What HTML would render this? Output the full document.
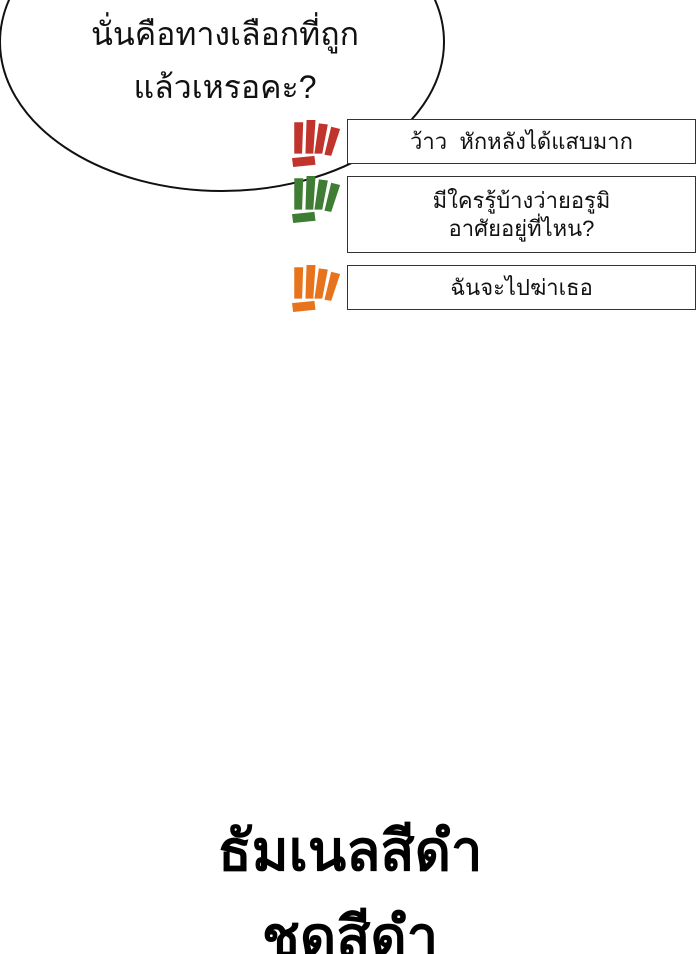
<!DOCTYPE html>
<html><head><meta charset="utf-8"><style>
html,body{margin:0;padding:0;background:#fff;width:700px;height:954px;overflow:hidden;position:relative;font-family:"Liberation Sans","DejaVu Sans",sans-serif}
.t{position:absolute;text-align:center;color:#111}
.box{position:absolute;border:1px solid #333;background:#fff;display:flex;align-items:center;justify-content:center;text-align:center;font-size:22px;line-height:28px;color:#111}
</style></head><body>
<svg width="700" height="954" style="position:absolute;left:0;top:0">
<ellipse cx="222" cy="42" rx="222" ry="149" fill="#fff" stroke="#111" stroke-width="2"/>
<defs>
<g id="ic">
<polygon points="2,2 10,2 9,30 2,30"/>
<polygon points="13,0 21,0 19,30 12,30"/>
<polygon points="24,3 32,4 27,30 20,30"/>
<polygon points="35,6 43,8 35,32 29,31"/>
<polygon points="0,34 20,32 21,40 1,42"/>
</g></defs>
<use href="#ic" transform="translate(292,120) scale(1.12)" fill="#c1342d"/>
<use href="#ic" transform="translate(292,176) scale(1.12)" fill="#3e7d33"/>
<use href="#ic" transform="translate(292,265) scale(1.12)" fill="#e8731d"/>
</svg>
<div class="t" style="left:30px;top:8px;width:390px;font-size:32px;line-height:53px">นั่นคือทางเลือกที่ถูก<br>แล้วเหรอคะ?</div>
<div class="box" style="left:347px;top:119px;width:347px;height:43px">ว้าว&nbsp; หักหลังได้แสบมาก</div>
<div class="box" style="left:347px;top:176px;width:347px;height:75px">มีใครรู้บ้างว่ายอรูมิ<br>อาศัยอยู่ที่ไหน?</div>
<div class="box" style="left:347px;top:265px;width:347px;height:43px">ฉันจะไปฆ่าเธอ</div>
<div class="t" style="left:0;top:808px;width:700px;font-size:56px;font-weight:bold;line-height:86px;color:#000">ธัมเนลสีดำ<br>ชุดสีดำ</div>
</body></html>
